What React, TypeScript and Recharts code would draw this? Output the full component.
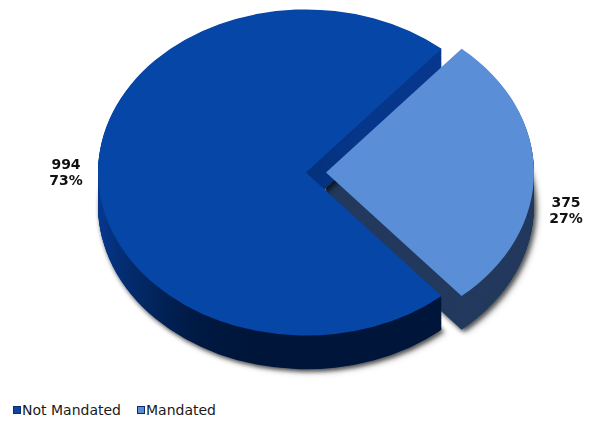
import React from "react";
import { PieChart, Pie, Cell } from "recharts";

// values
const categories = ["Not Mandated", "Mandated"];
const counts = [994, 375];

const topColors = ["#0546a6", "#5a8fd7"];
const sideColors = ["url(#mainSide)", "#243a5e"];
const legendColors = ["#1243a0", "#5a8fd7"];

const data = categories.map((name, i) => ({ name, value: counts[i] }));
const total = counts.reduce((a, b) => a + b, 0);

const W = 603;
const H = 422;
const TILT = 0.784; // vertical squash of the pie face
const CX = 306;
const CY = 220;
const R = 208;
const DEPTH = 43;
const EXPLODE = 20;
// the Mandated slice is centred on the horizontal axis
const START = (counts[1] / total) * 180;
const RAD = Math.PI / 180;

const layers = Array.from({ length: DEPTH }, (_, k) => DEPTH - k);

const renderLabel = (idx: number) => (props: any) => {
  if (props.index !== idx) return null;
  const x = props.cx + (props.outerRadius + 32) * Math.cos(-props.midAngle * RAD);
  const dy = idx === 0 ? -3.5 : 34.5;
  const pct = Math.round(props.percent * 100);
  return (
    <g transform={`translate(${x},${props.cy + dy / TILT}) scale(1,${1 / TILT})`}>
      <text
        textAnchor="middle"
        fontFamily="'DejaVu Sans', Verdana, sans-serif"
        fontWeight="bold"
        fontSize={14}
        fill="#111"
      >
        <tspan x={0} y={0}>
          {props.value}
        </tspan>
        <tspan x={0} y={16}>
          {pct}%
        </tspan>
      </text>
    </g>
  );
};

const slicePie = (
  idx: number,
  cy: number,
  colors: string[],
  key: string,
  withLabel = false,
  className?: string
) => (
  <Pie
    key={key}
    className={className}
    data={data}
    dataKey="value"
    nameKey="name"
    cx={CX + (idx === 1 ? EXPLODE : 0)}
    cy={cy}
    outerRadius={R}
    startAngle={START}
    endAngle={START + 360}
    stroke="none"
    legendType="none"
    isAnimationActive={false}
    label={withLabel ? renderLabel(idx) : false}
    labelLine={false}
  >
    {data.map((_, i) => (
      <Cell key={i} fill={i === idx ? colors[i] : "none"} stroke="none" />
    ))}
  </Pie>
);

export default function App() {
  return (
    <div style={{ position: "absolute", left: 0, top: 0, width: W, height: H, background: "#fff" }}>
      <style>{`.pie-shadow { filter: url(#pieShadow); }`}</style>
      <div style={{ transform: `scaleY(${TILT})`, transformOrigin: "0 0", width: W, height: H / TILT }}>
        <PieChart width={W} height={H / TILT} margin={{ top: 0, right: 0, bottom: 0, left: 0 }}>
          <defs>
            <linearGradient id="mainSide" x1="0" y1="0" x2="0.35" y2="1">
              <stop offset="0%" stopColor="#083c94" />
              <stop offset="55%" stopColor="#06368a" />
              <stop offset="78%" stopColor="#022660" />
              <stop offset="90%" stopColor="#001a46" />
              <stop offset="100%" stopColor="#00153a" />
            </linearGradient>
            <filter id="pieShadow" x="-10%" y="-10%" width="125%" height="125%">
              <feGaussianBlur in="SourceAlpha" stdDeviation="2.5" />
              <feOffset dx="2" dy="3" result="blur" />
              <feComponentTransfer>
                <feFuncA type="linear" slope="0.45" />
              </feComponentTransfer>
              <feMerge>
                <feMergeNode />
                <feMergeNode in="SourceGraphic" />
              </feMerge>
            </filter>
          </defs>
          {layers.map((d) =>
            slicePie(1, CY + d, sideColors, `m-side-${d}`, false, d === DEPTH ? "pie-shadow" : undefined)
          )}
          {layers.map((d) =>
            slicePie(0, CY + d, sideColors, `n-side-${d}`, false, d === DEPTH ? "pie-shadow" : undefined)
          )}
          {slicePie(0, CY, topColors, "n-top", true)}
          {slicePie(1, CY, topColors, "m-top", true)}
        </PieChart>
      </div>
      <div
        style={{
          position: "absolute",
          left: 13,
          top: 402,
          display: "flex",
          alignItems: "center",
          fontFamily: "'DejaVu Sans', Verdana, sans-serif",
          fontSize: 14,
          color: "#1a1a1a",
        }}
      >
        {categories.map((name, i) => (
          <div key={name} style={{ display: "flex", alignItems: "center", marginRight: 16 }}>
            <span
              style={{
                display: "inline-block",
                width: 6,
                height: 6,
                background: legendColors[i],
                border: "1px solid #0a2d6e",
                marginRight: 1,
              }}
            />
            <span>{name}</span>
          </div>
        ))}
      </div>
    </div>
  );
}
